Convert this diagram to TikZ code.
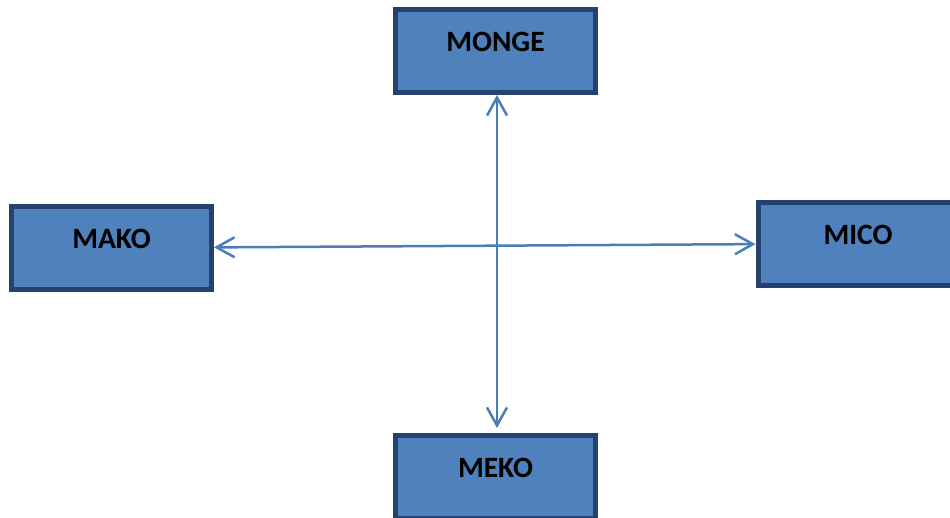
\documentclass[tikz,border=0pt]{standalone}
\usepackage{fontspec}
\setmainfont{Carlito}
\usetikzlibrary{arrows.meta}

\definecolor{boxfill}{HTML}{4F81BD}
\definecolor{boxline}{HTML}{254170}
\definecolor{linkblue}{HTML}{4A7EBB}

\tikzset{
  block/.style={rectangle, draw=boxline, fill=boxfill, line width=5pt,
    minimum width=200pt, minimum height=83pt, inner sep=0pt,
    font=\fontsize{29.5}{30}\selectfont\bfseries, text=black,
    text height=19pt, text depth=18pt},
  link/.style={draw=linkblue, line width=2.5pt,
    {Straight Barb[length=18pt,width=20pt]}-{Straight Barb[length=18pt,width=20pt]}}
}

\begin{document}
\begin{tikzpicture}[x=1pt, y=-1pt]
  \useasboundingbox (0,0) rectangle (950,517);

  \node[block] (MONGE) at (495.5,51)  {MONGE};
  \node[block] (MAKO)  at (111.5,248) {MAKO};
  \node[block] (MICO)  at (858,243.5) {MICO};
  \node[block] (MEKO)  at (495.5,477) {MEKO};

  \draw[link] (MAKO) -- (MICO);
  \draw[link, shorten >=5pt] ([xshift=1.5pt]MONGE.south) -- ([xshift=1.5pt]MEKO.north);
\end{tikzpicture}
\end{document}
